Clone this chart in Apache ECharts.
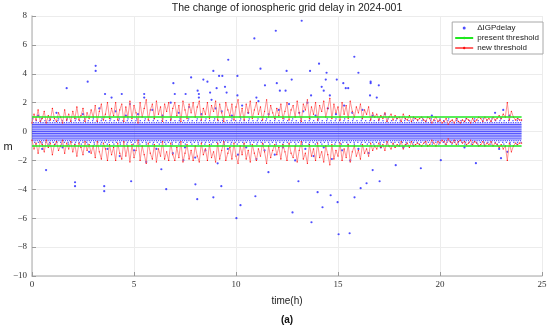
<!DOCTYPE html>
<html><head><meta charset="utf-8">
<script src="https://cdn.jsdelivr.net/npm/echarts@6/dist/echarts.min.js"></script>
<style>html,body{margin:0;padding:0;background:#fff}#c{width:550px;height:331px}</style>
</head><body><div id="c"></div>
<script>
// ---------------- data ----------------
const xTicks = [0, 5, 10, 15, 20, 25];
const yTicks = [-10, -8, -6, -4, -2, 0, 2, 4, 6, 8];
const presentThreshold = 1.0;
const dayStart = 0, dayEnd = 24;
const thresholdStep = 0.1; // hours between epochs of the new threshold
// new threshold (upper branch, m), one value per epoch from 0 h to 24 h
const newThreshold = [
  0.6,1.2,0.8,1.5,0.7,0.9,1.4,0.6,1.1,0.8,
  1.6,0.9,0.7,1.3,1.0,0.6,1.5,0.8,1.2,0.7,
  1.4,0.9,1.7,0.8,1.1,1.6,0.7,1.3,0.9,1.5,
  1.0,1.8,0.7,1.4,1.9,0.8,1.2,2.0,0.9,1.6,
  1.1,2.0,0.8,1.5,1.9,0.7,1.7,1.0,2.1,0.9,
  1.8,1.3,0.6,2.0,1.0,1.6,2.2,0.8,1.5,1.9,
  0.9,2.1,1.2,1.7,0.7,1.9,1.4,2.0,0.8,1.6,
  2.0,1.1,1.8,0.7,2.1,1.5,0.9,1.9,1.3,2.0,
  1.0,1.7,2.1,0.8,1.6,1.2,2.0,0.9,1.8,1.4,
  2.1,0.8,1.9,1.3,0.7,2.0,1.5,1.1,1.9,0.8,
  1.7,2.2,1.0,1.6,0.8,1.9,1.3,2.1,0.9,1.5,
  2.0,1.2,1.7,0.8,1.4,2.2,1.0,1.8,1.3,0.9,
  1.6,1.1,1.9,0.9,1.4,2.0,0.8,1.5,1.8,1.0,
  2.1,1.3,0.7,1.9,1.5,2.2,0.9,1.7,1.2,2.0,
  0.8,1.8,1.4,2.1,1.0,1.6,2.3,0.9,1.9,1.3,
  1.7,0.8,2.0,1.2,1.8,0.9,2.1,1.4,1.0,1.7,
  1.3,1.9,0.9,1.5,1.2,1.7,0.8,1.3,1.0,1.2,
  0.8,1.1,0.9,1.3,0.7,1.0,1.2,0.8,1.1,0.9,
  1.0,0.7,1.2,0.9,0.8,1.1,0.7,1.0,0.9,0.8,
  0.9,1.0,0.8,0.7,1.0,0.9,0.6,0.8,1.0,0.7,
  0.8,0.6,0.7,0.9,0.5,0.7,0.8,0.6,0.9,0.7,
  0.6,0.8,0.7,0.9,0.8,0.6,0.9,0.7,0.8,1.0,
  0.9,0.7,1.0,0.8,0.9,0.7,1.0,0.8,0.9,1.1,
  0.9,1.2,1.0,2.0,0.8,1.4,1.0,0.8,0.9,0.8,
  0.8
];
// dense ΔIGPdelay band: quantised levels (m) and share of epochs occupied at each level
const bandLevels    = [0.875,0.75,0.625,0.5,0.375,0.25,0.125,0,-0.125,-0.25,-0.375,-0.5,-0.625,-0.75,-0.875];
const bandOccupancy = [0.15, 0.3, 0.55, 0.9, 1,   1,   1,    1, 1,     1,    1,    0.85,0.6,  0.35, 0.2];
// scattered ΔIGPdelay samples [time h, delay m]
const igpHigh = [
  [1.70,3.0],[2.73,3.45],[3.12,4.55],[3.12,4.2],[3.58,2.6],[3.9,2.35],[4.4,2.6],[5.5,2.35],[5.5,2.6],
  [6.93,3.35],[7.0,2.6],[7.53,2.6],[7.8,3.75],[8.12,2.83],[8.18,2.6],[8.18,2.35],[8.4,3.6],[8.6,3.45],
  [8.73,2.7],[8.89,4.2],[9.05,3.0],[9.17,3.85],[9.33,3.85],[9.46,3.1],[9.54,2.7],[9.62,4.97],[10.07,3.85],
  [10.07,2.5],[10.9,6.45],[11.0,2.35],[11.2,4.35],[11.42,3.2],[11.95,6.98],[12.0,3.35],[12.15,2.83],
  [12.43,2.83],[12.48,4.2],[12.73,3.6],[13.22,7.67],[13.63,4.2],[13.68,2.5],[14.07,4.7],[14.2,3.1],
  [14.3,2.83],[14.4,3.6],[14.44,4.07],[14.6,2.5],[14.94,3.6],[15.26,3.35],[15.38,3.0],[15.5,3.0],
  [15.8,5.18],[16.0,4.07],[16.57,2.5],[16.6,3.45],[16.6,3.35],[16.9,2.35],[17.0,3.2]
];
const igpLow = [
  [0.69,-2.67],[2.11,-3.51],[2.11,-3.78],[3.54,-3.78],[3.54,-4.13],[4.86,-3.44],[6.34,-2.61],[6.58,-3.99],
  [7.42,-1.98],[8.01,-3.65],[8.10,-4.68],[8.89,-4.55],[9.28,-3.78],[10.02,-6.0],[10.22,-5.1],[10.95,-4.48],
  [11.59,-2.81],[12.77,-5.6],[13.06,-3.44],[13.70,-6.28],[14.0,-4.2],[14.24,-5.24],[14.64,-4.41],[14.98,-4.89],
  [15.03,-7.11],[15.57,-7.04],[15.81,-4.55],[16.11,-3.92],[16.40,-3.58],[16.70,-2.67],[17.04,-3.44],
  [17.83,-2.33],[19.06,-2.54],[20.04,-1.98],[21.76,-2.19],[22.99,-1.84]
];
const igpNearPos = [
  [0.3,1.1],[1.2,1.3],[2.5,1.2],[3.3,1.6],[4.1,1.4],[4.8,1.9],[5.2,1.2],[5.9,1.5],[6.4,1.1],[6.8,2.0],
  [7.2,1.3],[7.7,1.7],[8.3,1.2],[8.8,2.2],[9.3,1.4],[9.8,1.1],[10.3,1.8],[10.6,1.3],[11.1,2.1],[11.6,1.2],
  [12.1,1.5],[12.6,1.9],[13.1,1.3],[13.5,2.0],[13.9,1.1],[14.5,1.6],[14.9,1.2],[15.3,1.8],[15.7,1.3],
  [16.2,1.5],[16.7,1.1],[17.3,1.2],[19.6,1.1],[22.7,1.3],[23.1,1.5],[23.4,1.1],[4.6,1.1],[9.0,1.6],[13.3,1.4]
];
const igpNearNeg = [
  [0.5,-1.2],[1.5,-1.1],[2.8,-1.4],[3.7,-1.2],[4.3,-1.7],[5.0,-1.3],[5.6,-2.1],[6.1,-1.2],[6.9,-1.5],
  [7.5,-1.1],[8.0,-1.8],[8.5,-1.3],[9.1,-2.2],[9.6,-1.2],[10.1,-1.6],[10.5,-1.1],[11.0,-1.9],[11.4,-1.3],
  [11.9,-1.6],[12.3,-1.1],[12.9,-2.0],[13.4,-1.2],[13.8,-1.7],[14.3,-1.1],[14.7,-1.9],[15.2,-1.3],
  [15.6,-2.0],[16.0,-1.2],[16.5,-1.5],[17.1,-1.1],[18.2,-1.1],[21.2,-1.1],[22.9,-1.2],[23.3,-1.4]
];

// ---------------- chart ----------------
const chart = echarts.init(document.getElementById('c'), null, {renderer: 'canvas'});
const upper = newThreshold.map((v, i) => [dayStart + i * thresholdStep, v]);
const lower = newThreshold.map((v, i) => [dayStart + i * thresholdStep, -v]);
const igpAll = igpHigh.concat(igpLow, igpNearPos, igpNearNeg);
const fmt = v => (v < 0 ? '\u2212' + Math.abs(v) : String(v));
const serif = 'Liberation Serif';
const sans = 'Liberation Sans';

const bandSeries = bandLevels.map((lv, k) => {
  const occ = bandOccupancy[k];
  const type = occ >= 0.85 ? 'solid' : [1.3, Math.max(0.8, 1.3 / occ - 1.3)];
  return {
    name: 'band' + k, type: 'line', data: [[dayStart, lv], [dayEnd, lv]],
    showSymbol: false, silent: true, z: 1,
    lineStyle: {color: '#3a3aff', width: 1.25, type: type, dashOffset: k * 0.7, opacity: 0.85}
  };
});

chart.setOption({
  animation: false,
  backgroundColor: '#fff',
  grid: {left: 32, right: 8, top: 16, bottom: 55, containLabel: false},
  xAxis: {
    type: 'value', min: 0, max: 25, interval: 5,
    axisLine: {show: true, onZero: false, lineStyle: {color: '#c4c4c4', width: 1.5}},
    axisTick: {show: true, inside: true, length: 4, lineStyle: {color: '#9a9a9a'}},
    axisLabel: {fontFamily: serif, fontSize: 9, color: '#333', margin: 4, formatter: fmt},
    splitLine: {show: true, lineStyle: {color: '#ececec', width: 1}}
  },
  yAxis: {
    type: 'value', min: -10, max: 8, interval: 2,
    axisLine: {show: true, onZero: false, lineStyle: {color: '#c4c4c4', width: 1.5}},
    axisTick: {show: true, inside: true, length: 4, lineStyle: {color: '#9a9a9a'}},
    axisLabel: {fontFamily: serif, fontSize: 9, color: '#333', margin: 5, formatter: fmt},
    splitLine: {show: true, lineStyle: {color: '#ececec', width: 1}}
  },
  legend: {
    data: ['ΔIGPdelay', 'present threshold', 'new threshold'],
    orient: 'vertical', right: 7, top: 22,
    itemWidth: 18, itemHeight: 3, itemGap: 2,
    padding: [2, 4, 2, 2],
    backgroundColor: '#fff', borderColor: '#a8a8a8', borderWidth: 1, borderRadius: 0,
    textStyle: {fontFamily: sans, fontSize: 8, color: '#222', padding: [0, 0, 0, -1]},
    selectedMode: false
  },
  graphic: [
    {type: 'text', position: [287, 3], style: {text: 'The change of ionospheric grid delay in 2024-001', font: '10.5px "Liberation Sans"', fill: '#222', textAlign: 'center'}},
    {type: 'text', position: [287, 296], style: {text: 'time(h)', font: '10px "Liberation Sans"', fill: '#222', textAlign: 'center'}},
    {type: 'text', position: [8, 141], style: {text: 'm', font: '11px "Liberation Sans"', fill: '#222', textAlign: 'center'}},
    {type: 'text', position: [287, 315], style: {text: '(a)', font: 'bold 10px "Liberation Sans"', fill: '#111', textAlign: 'center'}}
  ],
  series: bandSeries.concat([
    {
      name: 'ΔIGPdelay', type: 'scatter', data: igpAll, symbol: 'circle', symbolSize: 2.2, z: 2,
      itemStyle: {color: '#2020ff'}
    },
    {
      name: 'new threshold', type: 'line', data: upper, z: 3,
      symbol: 'circle', symbolSize: 1.3, showSymbol: true,
      lineStyle: {color: '#ff6464', width: 0.7}, itemStyle: {color: '#ff1010'}
    },
    {
      name: 'new threshold', type: 'line', data: lower, z: 3,
      symbol: 'circle', symbolSize: 1.3, showSymbol: true,
      lineStyle: {color: '#ff6464', width: 0.7}, itemStyle: {color: '#ff1010'}
    },
    {
      name: 'present threshold', type: 'line', data: [[dayStart, presentThreshold], [dayEnd, presentThreshold]], z: 4,
      symbol: 'circle', symbolSize: 2, showSymbol: false,
      lineStyle: {color: '#1fe81f', width: 1.5}, itemStyle: {color: '#1fe81f'}
    },
    {
      name: 'present threshold', type: 'line', data: [[dayStart, -presentThreshold], [dayEnd, -presentThreshold]], z: 4,
      symbol: 'circle', symbolSize: 2, showSymbol: false,
      lineStyle: {color: '#1fe81f', width: 1.5}, itemStyle: {color: '#1fe81f'}
    }
  ])
});
</script></body></html>
